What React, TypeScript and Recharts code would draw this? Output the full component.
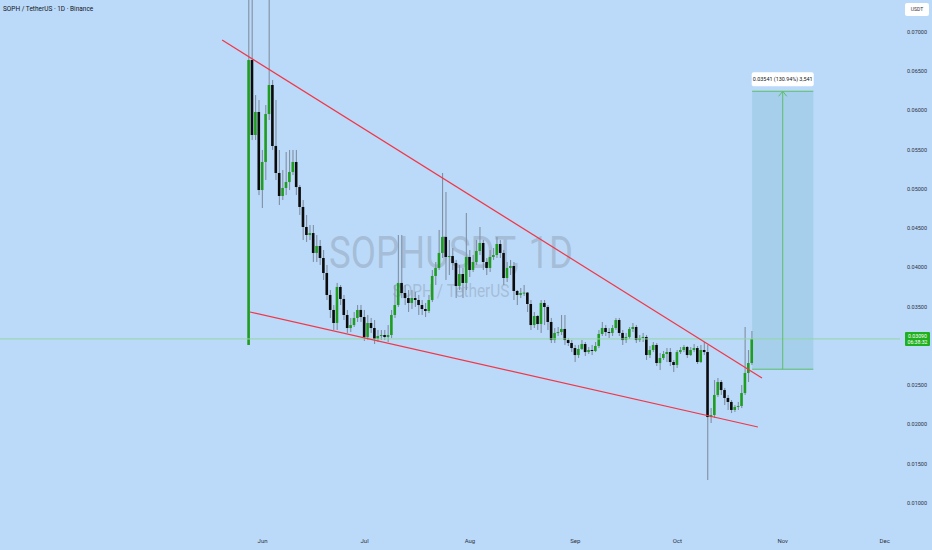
import React from "react";
import {
  ComposedChart,
  Bar,
  XAxis,
  YAxis,
  ReferenceLine,
  ReferenceArea,
  ReferenceDot,
} from "recharts";

// SOPH / TetherUS daily candles, first candle = index 0 (May 28)
const FIRST_OPEN = 0.03013;

const CLOSES = [
  0.06643, 0.05688, 0.05981, 0.04987, 0.05344, 0.05955, 0.06325, 0.05548, 0.05204, 0.04911,
  0.05013, 0.05089, 0.05217, 0.05344, 0.05025, 0.04771, 0.04516, 0.04414, 0.04439, 0.04185,
  0.04274, 0.04121, 0.0393, 0.0365, 0.03459, 0.03293, 0.03752, 0.03599, 0.03395, 0.03229,
  0.03267, 0.03357, 0.03459, 0.03369, 0.03115, 0.03293, 0.03229, 0.03089, 0.03127, 0.0314,
  0.03115, 0.0314, 0.03395, 0.03522, 0.03803, 0.03675, 0.03611, 0.03548, 0.03611, 0.03586,
  0.03522, 0.03471, 0.03446, 0.03586, 0.03892, 0.03994, 0.04185, 0.04389, 0.04134, 0.04146,
  0.04057, 0.03764, 0.03917, 0.03803, 0.04134, 0.03968, 0.0407, 0.0421, 0.04312, 0.0407,
  0.03994, 0.04134, 0.04159, 0.04299, 0.04185, 0.03866, 0.03994, 0.04019, 0.03701, 0.0365,
  0.03675, 0.0368, 0.03535, 0.03267, 0.03382, 0.0328, 0.03548, 0.03497, 0.03306, 0.03076,
  0.03166, 0.03178, 0.03217, 0.03076, 0.03038, 0.02974, 0.02885, 0.02962, 0.03025, 0.02923,
  0.02949, 0.02936, 0.03, 0.03153, 0.03229, 0.03178, 0.03166, 0.03229, 0.03331, 0.03166,
  0.03076, 0.03115, 0.03217, 0.03242, 0.03076, 0.03102, 0.03115, 0.02885, 0.02949, 0.03013,
  0.02783, 0.02847, 0.02898, 0.02923, 0.02796, 0.02758, 0.02923, 0.02949, 0.02987, 0.02885,
  0.02949, 0.02974, 0.02796, 0.02949, 0.02923, 0.02095, 0.02121, 0.02376, 0.02541, 0.02439,
  0.02338, 0.02287, 0.02185, 0.02223, 0.02236, 0.02401, 0.02656, 0.02783, 0.0309,
];

const HIGHS = [
  0.076, 0.076, 0.06197, 0.06134, 0.05497, 0.0607, 0.076, 0.06388, 0.06134, 0.05497,
  0.05242, 0.05471, 0.05497, 0.05497, 0.05497, 0.05051, 0.0486, 0.04669, 0.04541, 0.04541,
  0.04414, 0.0435, 0.04223, 0.04032, 0.03713, 0.03522, 0.03803, 0.03777, 0.0365, 0.03459,
  0.03357, 0.03433, 0.03522, 0.03522, 0.03459, 0.03395, 0.03357, 0.03331, 0.03204, 0.03204,
  0.03204, 0.03267, 0.03459, 0.03777, 0.04414, 0.04414, 0.03777, 0.03713, 0.03713, 0.03688,
  0.0365, 0.03586, 0.03548, 0.0365, 0.03968, 0.0407, 0.04478, 0.05204, 0.04962, 0.0435,
  0.04248, 0.04096, 0.04032, 0.03994, 0.04694, 0.04223, 0.04159, 0.0435, 0.04516, 0.0435,
  0.04121, 0.04223, 0.04248, 0.04389, 0.0435, 0.04223, 0.0407, 0.04096, 0.0407, 0.03713,
  0.03739, 0.03777, 0.03688, 0.03586, 0.03433, 0.03395, 0.03586, 0.03586, 0.03522, 0.03357,
  0.03229, 0.03242, 0.03395, 0.03395, 0.03102, 0.03076, 0.03013, 0.03013, 0.03076, 0.03051,
  0.02987, 0.03013, 0.03051, 0.03204, 0.03306, 0.03267, 0.03229, 0.03267, 0.03357, 0.03357,
  0.03204, 0.03166, 0.03242, 0.03293, 0.03267, 0.0314, 0.03166, 0.0314, 0.03, 0.03051,
  0.03038, 0.02911, 0.02936, 0.02974, 0.02974, 0.02822, 0.02949, 0.02987, 0.03013, 0.03,
  0.02987, 0.03025, 0.03, 0.03013, 0.03051, 0.03013, 0.0221, 0.02567, 0.02592, 0.02567,
  0.02465, 0.02376, 0.02312, 0.02248, 0.02287, 0.02503, 0.03242, 0.02949, 0.03191,
];

const LOWS = [
  0.03013, 0.05624, 0.05624, 0.04923, 0.04758, 0.05115, 0.05879, 0.05497, 0.05115, 0.04796,
  0.0486, 0.04923, 0.04987, 0.05178, 0.04923, 0.04669, 0.0435, 0.04325, 0.0435, 0.0407,
  0.0407, 0.04032, 0.03841, 0.03586, 0.03357, 0.03204, 0.03204, 0.03522, 0.03331, 0.03166,
  0.03178, 0.03242, 0.03306, 0.03306, 0.03064, 0.03076, 0.03166, 0.03025, 0.03051, 0.03076,
  0.03076, 0.03051, 0.03102, 0.03357, 0.03497, 0.03611, 0.03522, 0.03433, 0.03471, 0.03497,
  0.03395, 0.03395, 0.03369, 0.0342, 0.0356, 0.03777, 0.03968, 0.04121, 0.03841, 0.03904,
  0.03968, 0.03611, 0.03713, 0.03611, 0.03713, 0.03879, 0.03943, 0.04032, 0.04159, 0.03968,
  0.03904, 0.03943, 0.04096, 0.04121, 0.04121, 0.03777, 0.03815, 0.03904, 0.03586, 0.03522,
  0.03611, 0.03637, 0.03433, 0.03204, 0.03229, 0.03204, 0.03166, 0.03267, 0.03204, 0.03038,
  0.03038, 0.03127, 0.0314, 0.03013, 0.03, 0.02923, 0.02796, 0.02847, 0.02949, 0.02873,
  0.02898, 0.02885, 0.02923, 0.02974, 0.03127, 0.03127, 0.03102, 0.03127, 0.03204, 0.03127,
  0.03013, 0.03038, 0.03089, 0.03178, 0.03038, 0.03051, 0.03051, 0.02822, 0.02847, 0.02923,
  0.02745, 0.02694, 0.02822, 0.02796, 0.02745, 0.02669, 0.0272, 0.02898, 0.02923, 0.02847,
  0.02873, 0.02923, 0.02771, 0.02783, 0.02885, 0.01293, 0.02019, 0.02083, 0.0235, 0.02376,
  0.02248, 0.02185, 0.02146, 0.02159, 0.02185, 0.0221, 0.02376, 0.02541, 0.02758,
];

const MONTH_TICKS = [4, 34, 65, 96, 126, 157, 187];
const MONTH_LABELS = ["Jun", "Jul", "Aug", "Sep", "Oct", "Nov", "Dec"];

const Y_TICKS = [0.07, 0.065, 0.06, 0.055, 0.05, 0.045, 0.04, 0.035, 0.025, 0.02, 0.015, 0.01];

const UPPER_TREND = [
  { i: -7.9, p: 0.06898 },
  { i: 150.9, p: 0.02592 },
];
const LOWER_TREND = [
  { i: 0.3, p: 0.03433 },
  { i: 149.7, p: 0.01968 },
];

const MEASURE_FROM = 148;
const MEASURE_TO = 166;
const MEASURE_LOW = 0.02704;
const MEASURE_HIGH = 0.06245;
const MEASURE_TEXT = "0.03541 (130.94%) 3,541";

const LAST_PRICE = 0.0309;
const COUNTDOWN = "06:38:32";

const X_DOMAIN = [-73.24, 191.5];
const Y_DOMAIN = [0.00656, 0.074076];

const BG = "#bbd9f9";
const UP = "#1f9d1f";
const DOWN = "#0b0b0b";
const WICK = "#8090a2";
const TREND = "#f23645";
const GREEN_LINE = "#5cbf6a";
const FONT = "Roboto, 'Liberation Sans', sans-serif";

const candles = CLOSES.map((c, i) => {
  const o = i === 0 ? FIRST_OPEN : CLOSES[i - 1];
  return {
    i,
    o,
    c,
    wick: [LOWS[i], HIGHS[i]],
    body: [Math.min(o, c), Math.max(o, c)],
  };
});

function WickShape(props: any) {
  const { x, y, width, height } = props;
  const top = Math.min(y, y + height);
  const h = Math.max(Math.abs(height), 1);
  const cx = x + width / 2;
  return <rect x={cx - 0.55} y={top} width={1.1} height={h} fill={WICK} />;
}

function BodyShape(props: any) {
  const { x, y, width, height, payload } = props;
  const top = Math.min(y, y + height);
  const h = Math.max(Math.abs(height), 1);
  const fill = payload.c >= payload.o ? UP : DOWN;
  return <rect x={x} y={top} width={width} height={h} fill={fill} />;
}

function PriceTag(props: any) {
  const vb = props.viewBox || {};
  const x = vb.x + vb.width + 5;
  const y = vb.y;
  return (
    <g fontFamily={FONT}>
      <rect x={x} y={y - 7} width={25} height={14} fill="#1fb01f" rx={1} />
      <text x={x + 12.5} y={y - 1} textAnchor="middle" fontSize={5.2} fill="#ffffff">
        {LAST_PRICE.toFixed(5)}
      </text>
      <text x={x + 12.5} y={y + 5} textAnchor="middle" fontSize={5.2} fill="#ffffff">
        {COUNTDOWN}
      </text>
    </g>
  );
}

function MeasureHead(props: any) {
  const { cx, cy } = props;
  return (
    <g fontFamily={FONT}>
      <path
        d={`M${cx - 4},${cy + 5} L${cx},${cy} L${cx + 4},${cy + 5}`}
        stroke={GREEN_LINE}
        strokeWidth={1}
        fill="none"
      />
      <rect x={cx - 31} y={cy - 19} width={62} height={14} rx={2} fill="#ffffff" />
      <text x={cx} y={cy - 10} textAnchor="middle" fontSize={5.4} fill="#131722">
        {MEASURE_TEXT}
      </text>
    </g>
  );
}

export default function App() {
  return (
    <div
      style={{
        position: "relative",
        width: 932,
        height: 550,
        background: BG,
        overflow: "hidden",
        fontFamily: FONT,
      }}
    >
      <style>{"body{margin:0}"}</style>
      <svg width={932} height={550} style={{ position: "absolute", left: 0, top: 0 }}>
        <text
          x={451}
          y={268}
          textAnchor="middle"
          fontSize={45}
          fontFamily={FONT}
          fill="#8a99ad"
          fillOpacity={0.45}
          textLength={244}
          lengthAdjust="spacingAndGlyphs"
        >
          SOPHUSDT, 1D
        </text>
        <text
          x={451}
          y={297}
          textAnchor="middle"
          fontSize={19}
          fontFamily={FONT}
          fill="#8a99ad"
          fillOpacity={0.45}
          textLength={117}
          lengthAdjust="spacingAndGlyphs"
        >
          SOPH / TetherUS
        </text>
      </svg>
      <div style={{ position: "absolute", left: 0, top: 0 }}>
        <ComposedChart
          width={932}
          height={550}
          data={candles}
          margin={{ top: 0, right: 0, bottom: 0, left: 0 }}
        >
          <XAxis
            type="number"
            dataKey="i"
            domain={X_DOMAIN}
            allowDataOverflow
            ticks={MONTH_TICKS}
            interval={0}
            tickFormatter={(v: number) => MONTH_LABELS[MONTH_TICKS.indexOf(v)]}
            axisLine={false}
            tickLine={false}
            tickSize={0}
            tickMargin={9}
            height={20}
            tick={{ fontSize: 6, fill: "#2f3341" }}
          />
          <XAxis xAxisId="b" type="number" dataKey="i" domain={X_DOMAIN} allowDataOverflow hide />
          <YAxis
            orientation="right"
            domain={Y_DOMAIN}
            allowDataOverflow
            ticks={Y_TICKS}
            interval={0}
            tickFormatter={(v: number) => v.toFixed(5)}
            axisLine={false}
            tickLine={false}
            tickSize={0}
            tickMargin={7}
            width={32}
            tick={{ fontSize: 5.5, fill: "#2f3341" }}
          />
          <ReferenceArea
            x1={MEASURE_FROM}
            x2={MEASURE_TO}
            y1={MEASURE_LOW}
            y2={MEASURE_HIGH}
            fill="#a3cfe9"
            fillOpacity={0.95}
            stroke="none"
          />
          <ReferenceLine y={LAST_PRICE} stroke="#93d6a6" strokeWidth={1} label={{ content: PriceTag }} />
          <Bar dataKey="wick" barSize={1} shape={WickShape} isAnimationActive={false} />
          <Bar
            dataKey="body"
            xAxisId="b"
            barSize={2.6}
            shape={BodyShape}
            isAnimationActive={false}
          />
          <ReferenceLine
            segment={[
              { x: UPPER_TREND[0].i, y: UPPER_TREND[0].p },
              { x: UPPER_TREND[1].i, y: UPPER_TREND[1].p },
            ]}
            stroke={TREND}
            strokeWidth={1.2}
          />
          <ReferenceLine
            segment={[
              { x: LOWER_TREND[0].i, y: LOWER_TREND[0].p },
              { x: LOWER_TREND[1].i, y: LOWER_TREND[1].p },
            ]}
            stroke={TREND}
            strokeWidth={1.2}
          />
          <ReferenceLine
            segment={[
              { x: MEASURE_FROM, y: MEASURE_HIGH },
              { x: MEASURE_TO, y: MEASURE_HIGH },
            ]}
            stroke={GREEN_LINE}
            strokeWidth={1}
          />
          <ReferenceLine
            segment={[
              { x: MEASURE_FROM, y: MEASURE_LOW },
              { x: MEASURE_TO, y: MEASURE_LOW },
            ]}
            stroke={GREEN_LINE}
            strokeWidth={1}
          />
          <ReferenceLine
            segment={[
              { x: (MEASURE_FROM + MEASURE_TO) / 2, y: MEASURE_LOW },
              { x: (MEASURE_FROM + MEASURE_TO) / 2, y: MEASURE_HIGH },
            ]}
            stroke={GREEN_LINE}
            strokeWidth={1}
          />
          <ReferenceDot
            x={(MEASURE_FROM + MEASURE_TO) / 2}
            y={MEASURE_HIGH}
            shape={MeasureHead}
            ifOverflow="visible"
          />
        </ComposedChart>
      </div>
      <div
        style={{
          position: "absolute",
          left: 3,
          top: 5,
          fontSize: 6.5,
          color: "#131722",
          whiteSpace: "nowrap",
        }}
      >
        SOPH / TetherUS · 1D · Binance
      </div>
      <div
        style={{
          position: "absolute",
          left: 905,
          top: 3,
          width: 24,
          height: 13,
          background: "#ffffff",
          borderRadius: 2,
          fontSize: 5,
          lineHeight: "13px",
          textAlign: "center",
          color: "#2f3341",
        }}
      >
        USDT
      </div>
    </div>
  );
}
